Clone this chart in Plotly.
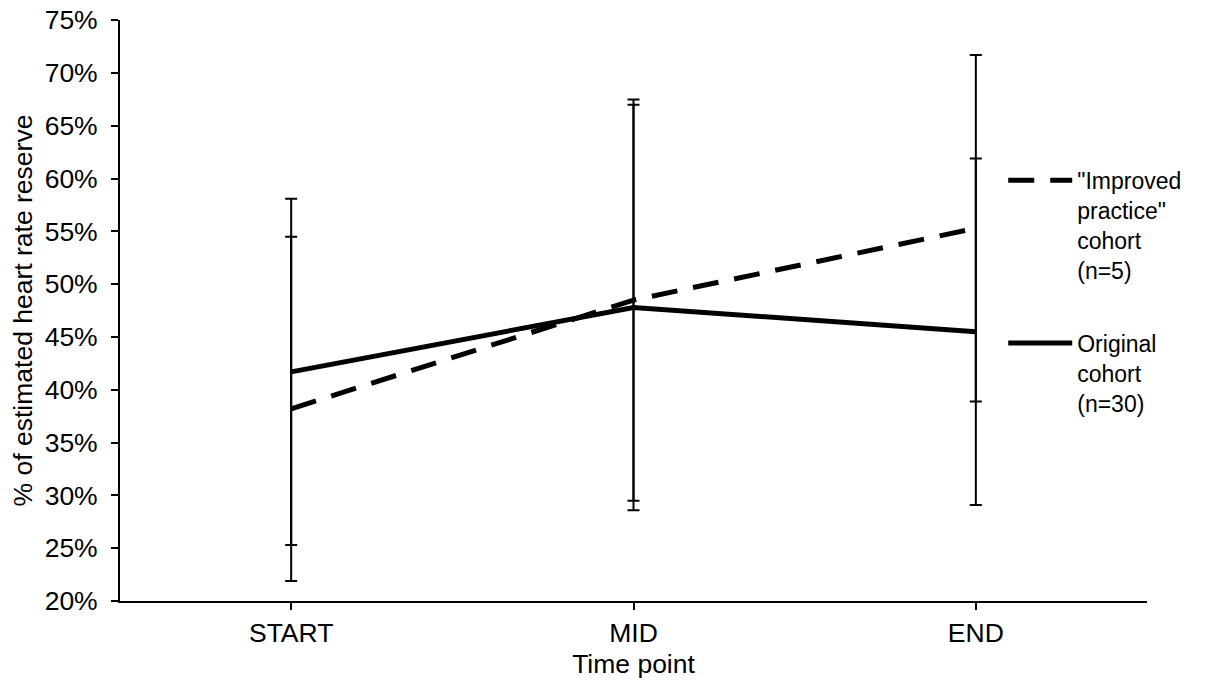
import plotly.graph_objects as go

categories = ["START", "MID", "END"]

original_mean = [0.417, 0.478, 0.455]
original_err = [0.164, 0.192, 0.164]

improved_mean = [0.382, 0.485, 0.553]
improved_err = [0.163, 0.190, 0.164]

y_ticks = [0.20, 0.25, 0.30, 0.35, 0.40, 0.45, 0.50, 0.55, 0.60, 0.65, 0.70, 0.75]

FONT = "Liberation Sans, Arial, sans-serif"
AX = 26.5
LEG = 23

fig = go.Figure()

fig.add_trace(go.Scatter(
    x=categories, y=improved_mean, mode="lines",
    name='"Improved<br>practice"<br>cohort<br>(n=5)',
    legendgroup="a",
    line=dict(color="black", width=5, dash="26px,16px"),
    error_y=dict(type="data", array=improved_err, visible=True,
                 color="black", thickness=2, width=6),
))
fig.add_trace(go.Scatter(
    x=categories, y=original_mean, mode="lines",
    name="Original<br>cohort<br>(n=30)",
    legendgroup="b",
    line=dict(color="black", width=5),
    error_y=dict(type="data", array=original_err, visible=True,
                 color="black", thickness=2, width=6),
))

fig.update_layout(
    width=1207, height=689,
    margin=dict(l=120, r=60, t=20, b=88, pad=0, autoexpand=False),
    paper_bgcolor="white", plot_bgcolor="white",
    font=dict(family=FONT, size=AX, color="black"),
    showlegend=True,
    legend=dict(
        x=0.86, y=0.761, xanchor="left", yanchor="top",
        bgcolor="rgba(0,0,0,0)",
        font=dict(family=FONT, size=LEG, color="black"),
        itemwidth=64, valign="top", tracegroupgap=40,
        traceorder="grouped",
    ),
    xaxis=dict(
        type="category", range=[-0.5, 2.5], automargin=False,
        showline=True, linecolor="black", linewidth=2,
        ticks="outside", ticklen=7, tickcolor="black", tickwidth=2,
        showgrid=False, zeroline=False,
        tickfont=dict(family=FONT, size=AX),
        title=dict(text="Time point", font=dict(family=FONT, size=AX), standoff=8),
    ),
    yaxis=dict(
        range=[0.20, 0.7502], tickvals=y_ticks, tickformat=".0%", automargin=False,
        showline=True, linecolor="black", linewidth=2,
        ticks="outside", ticklen=7, tickcolor="black", tickwidth=2,
        ticklabelstandoff=8, ticklabeloverflow="allow",
        showgrid=False, zeroline=False,
        tickfont=dict(family=FONT, size=AX),
        title=dict(text="% of estimated heart rate reserve",
                   font=dict(family=FONT, size=AX), standoff=4),
    ),
)

fig.write_html("out.html", config={"displayModeBar": False},
               post_script="document.body.style.margin='0';")
